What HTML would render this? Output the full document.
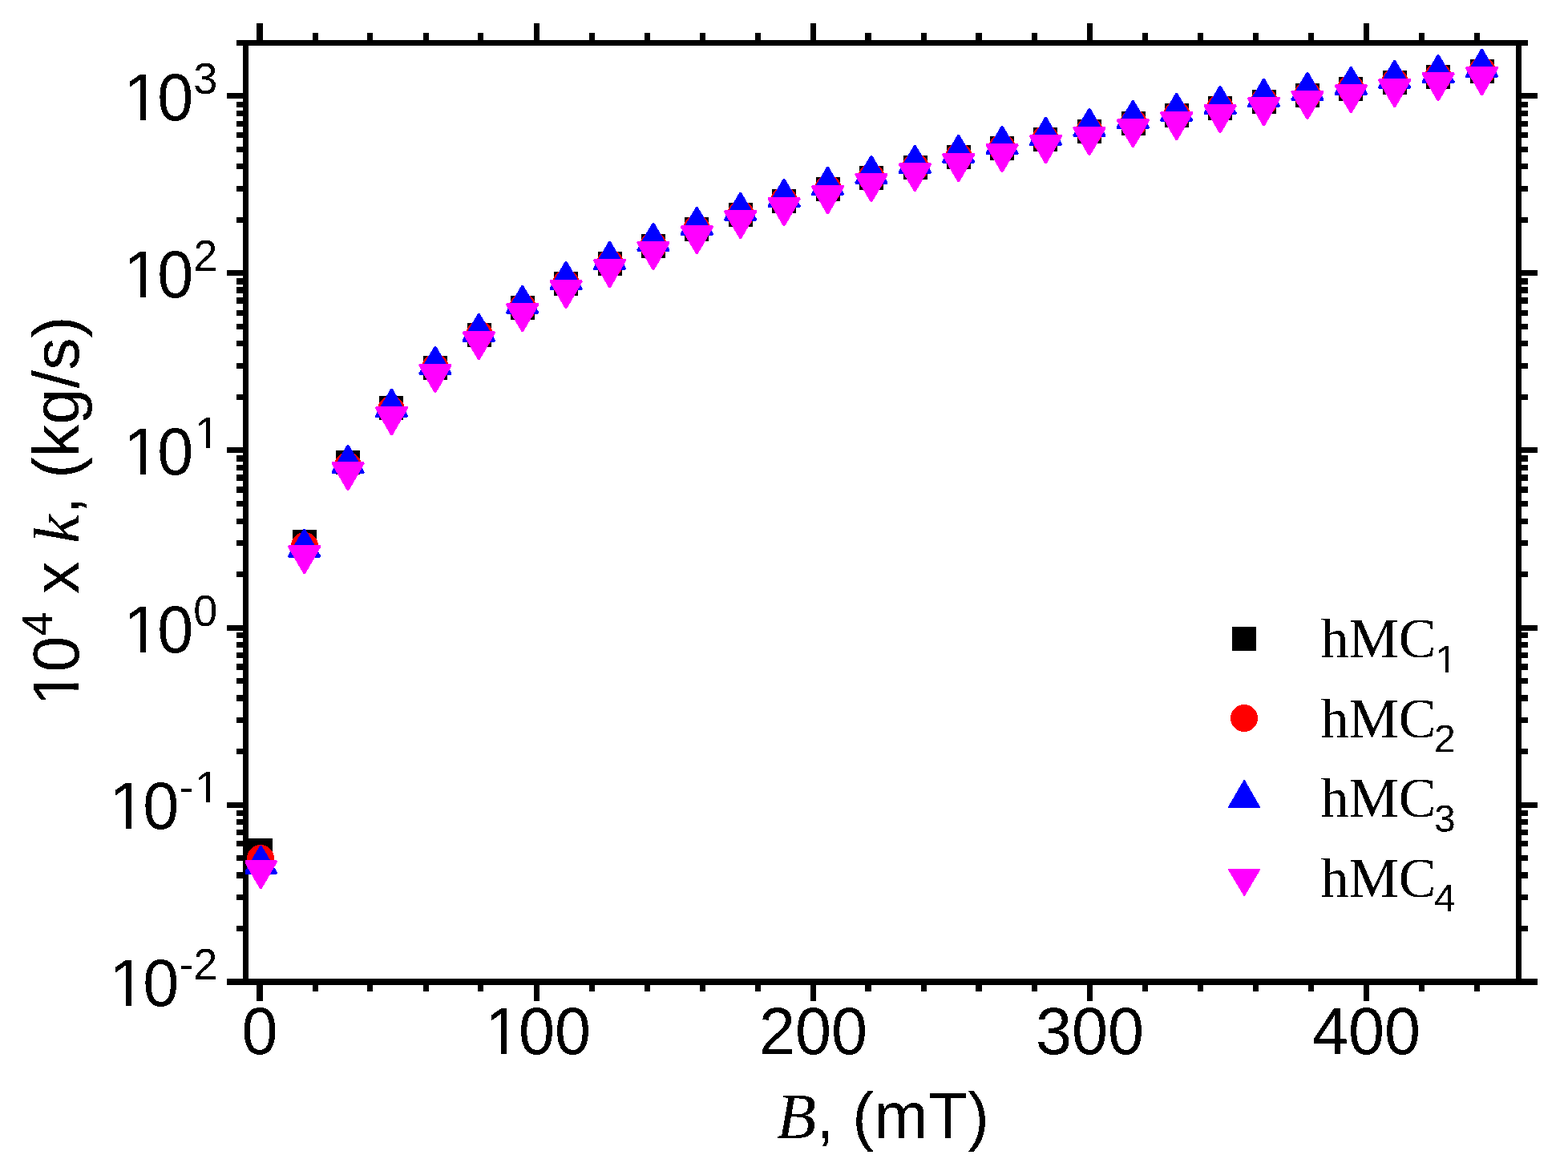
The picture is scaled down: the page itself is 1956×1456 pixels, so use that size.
<!DOCTYPE html>
<html lang="en"><head><meta charset="utf-8"><title>k vs B</title>
<style>
html,body{margin:0;padding:0;background:#fff;}
body{width:1956px;height:1456px;overflow:hidden;}
svg{display:block;}
.sans{font-family:"Liberation Sans",Arial,Helvetica,sans-serif;}
.serif{font-family:"Liberation Serif","Times New Roman",Times,serif;}
text{fill:#000;}
</style></head><body>
<svg width="1956" height="1456" viewBox="0 0 1956 1456" role="img" aria-label="10^4 x k (kg/s) versus B (mT) for hMC1 to hMC4">
<rect x="0" y="0" width="1956" height="1456" fill="#fff"/>
<g fill="#000" shape-rendering="crispEdges">
<rect x="295" y="50" width="1611" height="7"/>
<rect x="283" y="1221" width="1635" height="8"/>
<rect x="303" y="50" width="7" height="1179"/>
<rect x="1891" y="50" width="7" height="1179"/>
<rect x="320" y="29" width="8" height="21"/>
<rect x="320" y="1229" width="8" height="20"/>
<rect x="390" y="41" width="7" height="9"/>
<rect x="390" y="1229" width="7" height="8"/>
<rect x="458" y="41" width="7" height="9"/>
<rect x="458" y="1229" width="7" height="8"/>
<rect x="528" y="41" width="7" height="9"/>
<rect x="528" y="1229" width="7" height="8"/>
<rect x="596" y="41" width="7" height="9"/>
<rect x="596" y="1229" width="7" height="8"/>
<rect x="666" y="29" width="7" height="21"/>
<rect x="666" y="1229" width="7" height="20"/>
<rect x="735" y="41" width="7" height="9"/>
<rect x="735" y="1229" width="7" height="8"/>
<rect x="804" y="41" width="7" height="9"/>
<rect x="804" y="1229" width="7" height="8"/>
<rect x="873" y="41" width="7" height="9"/>
<rect x="873" y="1229" width="7" height="8"/>
<rect x="942" y="41" width="7" height="9"/>
<rect x="942" y="1229" width="7" height="8"/>
<rect x="1011" y="29" width="7" height="21"/>
<rect x="1011" y="1229" width="7" height="20"/>
<rect x="1079" y="41" width="8" height="9"/>
<rect x="1079" y="1229" width="8" height="8"/>
<rect x="1149" y="41" width="7" height="9"/>
<rect x="1149" y="1229" width="7" height="8"/>
<rect x="1217" y="41" width="8" height="9"/>
<rect x="1217" y="1229" width="8" height="8"/>
<rect x="1287" y="41" width="7" height="9"/>
<rect x="1287" y="1229" width="7" height="8"/>
<rect x="1356" y="29" width="7" height="21"/>
<rect x="1356" y="1229" width="7" height="20"/>
<rect x="1425" y="41" width="7" height="9"/>
<rect x="1425" y="1229" width="7" height="8"/>
<rect x="1494" y="41" width="7" height="9"/>
<rect x="1494" y="1229" width="7" height="8"/>
<rect x="1563" y="41" width="7" height="9"/>
<rect x="1563" y="1229" width="7" height="8"/>
<rect x="1632" y="41" width="7" height="9"/>
<rect x="1632" y="1229" width="7" height="8"/>
<rect x="1701" y="29" width="7" height="21"/>
<rect x="1701" y="1229" width="7" height="20"/>
<rect x="1770" y="41" width="7" height="9"/>
<rect x="1770" y="1229" width="7" height="8"/>
<rect x="1839" y="41" width="7" height="9"/>
<rect x="1839" y="1229" width="7" height="8"/>
<rect x="295" y="1155" width="8" height="7"/>
<rect x="1898" y="1155" width="8" height="7"/>
<rect x="295" y="1116" width="8" height="7"/>
<rect x="1898" y="1116" width="8" height="7"/>
<rect x="295" y="1088" width="8" height="8"/>
<rect x="1898" y="1088" width="8" height="8"/>
<rect x="295" y="1067" width="8" height="7"/>
<rect x="1898" y="1067" width="8" height="7"/>
<rect x="295" y="1049" width="8" height="7"/>
<rect x="1898" y="1049" width="8" height="7"/>
<rect x="295" y="1035" width="8" height="7"/>
<rect x="1898" y="1035" width="8" height="7"/>
<rect x="295" y="1022" width="8" height="7"/>
<rect x="1898" y="1022" width="8" height="7"/>
<rect x="295" y="1011" width="8" height="7"/>
<rect x="1898" y="1011" width="8" height="7"/>
<rect x="283" y="1001" width="20" height="7"/>
<rect x="1898" y="1001" width="20" height="7"/>
<rect x="295" y="934" width="8" height="7"/>
<rect x="1898" y="934" width="8" height="7"/>
<rect x="295" y="895" width="8" height="7"/>
<rect x="1898" y="895" width="8" height="7"/>
<rect x="295" y="867" width="8" height="8"/>
<rect x="1898" y="867" width="8" height="8"/>
<rect x="295" y="846" width="8" height="7"/>
<rect x="1898" y="846" width="8" height="7"/>
<rect x="295" y="828" width="8" height="8"/>
<rect x="1898" y="828" width="8" height="8"/>
<rect x="295" y="814" width="8" height="7"/>
<rect x="1898" y="814" width="8" height="7"/>
<rect x="295" y="801" width="8" height="7"/>
<rect x="1898" y="801" width="8" height="7"/>
<rect x="295" y="789" width="8" height="7"/>
<rect x="1898" y="789" width="8" height="7"/>
<rect x="283" y="780" width="20" height="7"/>
<rect x="1898" y="780" width="20" height="7"/>
<rect x="295" y="713" width="8" height="7"/>
<rect x="1898" y="713" width="8" height="7"/>
<rect x="295" y="674" width="8" height="7"/>
<rect x="1898" y="674" width="8" height="7"/>
<rect x="295" y="647" width="8" height="7"/>
<rect x="1898" y="647" width="8" height="7"/>
<rect x="295" y="625" width="8" height="7"/>
<rect x="1898" y="625" width="8" height="7"/>
<rect x="295" y="607" width="8" height="8"/>
<rect x="1898" y="607" width="8" height="8"/>
<rect x="295" y="592" width="8" height="8"/>
<rect x="1898" y="592" width="8" height="8"/>
<rect x="295" y="580" width="8" height="7"/>
<rect x="1898" y="580" width="8" height="7"/>
<rect x="295" y="568" width="8" height="8"/>
<rect x="1898" y="568" width="8" height="8"/>
<rect x="283" y="558" width="20" height="7"/>
<rect x="1898" y="558" width="20" height="7"/>
<rect x="295" y="492" width="8" height="7"/>
<rect x="1898" y="492" width="8" height="7"/>
<rect x="295" y="453" width="8" height="7"/>
<rect x="1898" y="453" width="8" height="7"/>
<rect x="295" y="425" width="8" height="7"/>
<rect x="1898" y="425" width="8" height="7"/>
<rect x="295" y="404" width="8" height="7"/>
<rect x="1898" y="404" width="8" height="7"/>
<rect x="295" y="387" width="8" height="7"/>
<rect x="1898" y="387" width="8" height="7"/>
<rect x="295" y="371" width="8" height="8"/>
<rect x="1898" y="371" width="8" height="8"/>
<rect x="295" y="358" width="8" height="8"/>
<rect x="1898" y="358" width="8" height="8"/>
<rect x="295" y="347" width="8" height="8"/>
<rect x="1898" y="347" width="8" height="8"/>
<rect x="283" y="337" width="20" height="7"/>
<rect x="1898" y="337" width="20" height="7"/>
<rect x="295" y="271" width="8" height="7"/>
<rect x="1898" y="271" width="8" height="7"/>
<rect x="295" y="232" width="8" height="7"/>
<rect x="1898" y="232" width="8" height="7"/>
<rect x="295" y="204" width="8" height="7"/>
<rect x="1898" y="204" width="8" height="7"/>
<rect x="295" y="183" width="8" height="7"/>
<rect x="1898" y="183" width="8" height="7"/>
<rect x="295" y="165" width="8" height="7"/>
<rect x="1898" y="165" width="8" height="7"/>
<rect x="295" y="151" width="8" height="7"/>
<rect x="1898" y="151" width="8" height="7"/>
<rect x="295" y="138" width="8" height="7"/>
<rect x="1898" y="138" width="8" height="7"/>
<rect x="295" y="127" width="8" height="7"/>
<rect x="1898" y="127" width="8" height="7"/>
<rect x="283" y="116" width="20" height="7"/>
<rect x="1898" y="116" width="20" height="7"/>
</g>
<defs><filter id="bin" x="-5%" y="-5%" width="110%" height="110%" color-interpolation-filters="sRGB"><feComponentTransfer><feFuncA type="discrete" tableValues="0 1"/></feComponentTransfer></filter></defs>
<defs><clipPath id="plotclip"><rect x="306" y="53" width="1589" height="1172"/></clipPath></defs>
<g clip-path="url(#plotclip)" shape-rendering="crispEdges">
<g fill="#000">
<rect x="310" y="1046" width="30" height="30" rx="1" ry="1"/>
<rect x="365" y="661" width="30" height="30" rx="1" ry="1"/>
<rect x="419" y="562" width="30" height="30" rx="1" ry="1"/>
<rect x="473" y="494" width="30" height="30" rx="1" ry="1"/>
<rect x="528" y="444" width="30" height="30" rx="1" ry="1"/>
<rect x="583" y="403" width="30" height="30" rx="1" ry="1"/>
<rect x="637" y="369" width="30" height="30" rx="1" ry="1"/>
<rect x="691" y="339" width="30" height="30" rx="1" ry="1"/>
<rect x="746" y="314" width="30" height="30" rx="1" ry="1"/>
<rect x="800" y="292" width="30" height="30" rx="1" ry="1"/>
<rect x="854" y="271" width="30" height="30" rx="1" ry="1"/>
<rect x="909" y="253" width="30" height="30" rx="1" ry="1"/>
<rect x="963" y="236" width="30" height="30" rx="1" ry="1"/>
<rect x="1018" y="221" width="30" height="30" rx="1" ry="1"/>
<rect x="1072" y="207" width="30" height="30" rx="1" ry="1"/>
<rect x="1127" y="194" width="30" height="30" rx="1" ry="1"/>
<rect x="1181" y="181" width="30" height="30" rx="1" ry="1"/>
<rect x="1235" y="170" width="30" height="30" rx="1" ry="1"/>
<rect x="1289" y="159" width="30" height="30" rx="1" ry="1"/>
<rect x="1344" y="149" width="30" height="30" rx="1" ry="1"/>
<rect x="1399" y="139" width="30" height="30" rx="1" ry="1"/>
<rect x="1453" y="129" width="30" height="30" rx="1" ry="1"/>
<rect x="1507" y="120" width="30" height="30" rx="1" ry="1"/>
<rect x="1562" y="112" width="30" height="30" rx="1" ry="1"/>
<rect x="1616" y="104" width="30" height="30" rx="1" ry="1"/>
<rect x="1670" y="96" width="30" height="30" rx="1" ry="1"/>
<rect x="1725" y="88" width="30" height="30" rx="1" ry="1"/>
<rect x="1779" y="81" width="30" height="30" rx="1" ry="1"/>
<rect x="1834" y="74" width="30" height="30" rx="1" ry="1"/>
</g>
<g fill="#f00">
<circle cx="325" cy="1071" r="17"/>
<circle cx="380" cy="681" r="17"/>
<circle cx="434" cy="581" r="17"/>
<circle cx="488" cy="511" r="17"/>
<circle cx="543" cy="458.5" r="17"/>
<circle cx="598" cy="417.5" r="17"/>
<circle cx="652" cy="383.5" r="17"/>
<circle cx="706" cy="353.5" r="17"/>
<circle cx="761" cy="328.5" r="17"/>
<circle cx="815" cy="306.5" r="17"/>
<circle cx="869" cy="285.5" r="17"/>
<circle cx="924" cy="267.5" r="17"/>
<circle cx="978" cy="250.5" r="17"/>
<circle cx="1033" cy="235.5" r="17"/>
<circle cx="1087" cy="221.5" r="17"/>
<circle cx="1142" cy="208.5" r="17"/>
<circle cx="1196" cy="195.5" r="17"/>
<circle cx="1250" cy="184.5" r="17"/>
<circle cx="1304" cy="173.5" r="17"/>
<circle cx="1359" cy="163.5" r="17"/>
<circle cx="1414" cy="153.5" r="17"/>
<circle cx="1468" cy="143.5" r="17"/>
<circle cx="1522" cy="134.5" r="17"/>
<circle cx="1577" cy="126.5" r="17"/>
<circle cx="1631" cy="118.5" r="17"/>
<circle cx="1685" cy="110.5" r="17"/>
<circle cx="1740" cy="102.5" r="17"/>
<circle cx="1794" cy="95.5" r="17"/>
<circle cx="1849" cy="88.5" r="17"/>
</g>
<g>
<polygon points="325.30,1057.00 343.80,1089.00 306.80,1089.00" fill="#00f" stroke="#00f" stroke-width="4.0" stroke-linejoin="round"/>
<polygon points="379.70,662.00 398.20,694.00 361.20,694.00" fill="#00f" stroke="#00f" stroke-width="4.0" stroke-linejoin="round"/>
<polygon points="434.10,557.00 452.60,589.00 415.60,589.00" fill="#00f" stroke="#00f" stroke-width="4.0" stroke-linejoin="round"/>
<polygon points="488.50,487.00 507.00,519.00 470.00,519.00" fill="#00f" stroke="#00f" stroke-width="4.0" stroke-linejoin="round"/>
<polygon points="542.90,434.00 561.40,466.00 524.40,466.00" fill="#00f" stroke="#00f" stroke-width="4.0" stroke-linejoin="round"/>
<polygon points="597.30,393.00 615.80,425.00 578.80,425.00" fill="#00f" stroke="#00f" stroke-width="4.0" stroke-linejoin="round"/>
<polygon points="651.70,358.00 670.20,390.00 633.20,390.00" fill="#00f" stroke="#00f" stroke-width="4.0" stroke-linejoin="round"/>
<polygon points="706.10,328.00 724.60,360.00 687.60,360.00" fill="#00f" stroke="#00f" stroke-width="4.0" stroke-linejoin="round"/>
<polygon points="760.50,303.00 779.00,335.00 742.00,335.00" fill="#00f" stroke="#00f" stroke-width="4.0" stroke-linejoin="round"/>
<polygon points="814.90,280.00 833.40,312.00 796.40,312.00" fill="#00f" stroke="#00f" stroke-width="4.0" stroke-linejoin="round"/>
<polygon points="869.30,260.00 887.80,292.00 850.80,292.00" fill="#00f" stroke="#00f" stroke-width="4.0" stroke-linejoin="round"/>
<polygon points="923.70,242.00 942.20,274.00 905.20,274.00" fill="#00f" stroke="#00f" stroke-width="4.0" stroke-linejoin="round"/>
<polygon points="978.10,225.00 996.60,257.00 959.60,257.00" fill="#00f" stroke="#00f" stroke-width="4.0" stroke-linejoin="round"/>
<polygon points="1032.50,210.00 1051.00,242.00 1014.00,242.00" fill="#00f" stroke="#00f" stroke-width="4.0" stroke-linejoin="round"/>
<polygon points="1086.90,196.00 1105.40,228.00 1068.40,228.00" fill="#00f" stroke="#00f" stroke-width="4.0" stroke-linejoin="round"/>
<polygon points="1141.30,183.00 1159.80,215.00 1122.80,215.00" fill="#00f" stroke="#00f" stroke-width="4.0" stroke-linejoin="round"/>
<polygon points="1195.70,170.00 1214.20,202.00 1177.20,202.00" fill="#00f" stroke="#00f" stroke-width="4.0" stroke-linejoin="round"/>
<polygon points="1250.10,159.00 1268.60,191.00 1231.60,191.00" fill="#00f" stroke="#00f" stroke-width="4.0" stroke-linejoin="round"/>
<polygon points="1304.50,148.00 1323.00,180.00 1286.00,180.00" fill="#00f" stroke="#00f" stroke-width="4.0" stroke-linejoin="round"/>
<polygon points="1358.90,137.00 1377.40,169.00 1340.40,169.00" fill="#00f" stroke="#00f" stroke-width="4.0" stroke-linejoin="round"/>
<polygon points="1413.30,127.00 1431.80,159.00 1394.80,159.00" fill="#00f" stroke="#00f" stroke-width="4.0" stroke-linejoin="round"/>
<polygon points="1467.70,118.00 1486.20,150.00 1449.20,150.00" fill="#00f" stroke="#00f" stroke-width="4.0" stroke-linejoin="round"/>
<polygon points="1522.10,109.00 1540.60,141.00 1503.60,141.00" fill="#00f" stroke="#00f" stroke-width="4.0" stroke-linejoin="round"/>
<polygon points="1576.50,100.00 1595.00,132.00 1558.00,132.00" fill="#00f" stroke="#00f" stroke-width="4.0" stroke-linejoin="round"/>
<polygon points="1630.90,92.00 1649.40,124.00 1612.40,124.00" fill="#00f" stroke="#00f" stroke-width="4.0" stroke-linejoin="round"/>
<polygon points="1685.30,85.00 1703.80,117.00 1666.80,117.00" fill="#00f" stroke="#00f" stroke-width="4.0" stroke-linejoin="round"/>
<polygon points="1739.70,77.00 1758.20,109.00 1721.20,109.00" fill="#00f" stroke="#00f" stroke-width="4.0" stroke-linejoin="round"/>
<polygon points="1794.10,70.00 1812.60,102.00 1775.60,102.00" fill="#00f" stroke="#00f" stroke-width="4.0" stroke-linejoin="round"/>
<polygon points="1848.50,63.00 1867.00,95.00 1830.00,95.00" fill="#00f" stroke="#00f" stroke-width="4.0" stroke-linejoin="round"/>
</g>
<g>
<polygon points="306.80,1075.00 343.80,1075.00 325.30,1107.00" fill="#f0f" stroke="#f0f" stroke-width="4.0" stroke-linejoin="round"/>
<polygon points="361.20,682.00 398.20,682.00 379.70,714.00" fill="#f0f" stroke="#f0f" stroke-width="4.0" stroke-linejoin="round"/>
<polygon points="415.60,578.00 452.60,578.00 434.10,610.00" fill="#f0f" stroke="#f0f" stroke-width="4.0" stroke-linejoin="round"/>
<polygon points="470.00,509.00 507.00,509.00 488.50,541.00" fill="#f0f" stroke="#f0f" stroke-width="4.0" stroke-linejoin="round"/>
<polygon points="524.40,456.00 561.40,456.00 542.90,488.00" fill="#f0f" stroke="#f0f" stroke-width="4.0" stroke-linejoin="round"/>
<polygon points="578.80,415.00 615.80,415.00 597.30,447.00" fill="#f0f" stroke="#f0f" stroke-width="4.0" stroke-linejoin="round"/>
<polygon points="633.20,380.00 670.20,380.00 651.70,412.00" fill="#f0f" stroke="#f0f" stroke-width="4.0" stroke-linejoin="round"/>
<polygon points="687.60,351.00 724.60,351.00 706.10,383.00" fill="#f0f" stroke="#f0f" stroke-width="4.0" stroke-linejoin="round"/>
<polygon points="742.00,325.00 779.00,325.00 760.50,357.00" fill="#f0f" stroke="#f0f" stroke-width="4.0" stroke-linejoin="round"/>
<polygon points="796.40,303.00 833.40,303.00 814.90,335.00" fill="#f0f" stroke="#f0f" stroke-width="4.0" stroke-linejoin="round"/>
<polygon points="850.80,283.00 887.80,283.00 869.30,315.00" fill="#f0f" stroke="#f0f" stroke-width="4.0" stroke-linejoin="round"/>
<polygon points="905.20,264.00 942.20,264.00 923.70,296.00" fill="#f0f" stroke="#f0f" stroke-width="4.0" stroke-linejoin="round"/>
<polygon points="959.60,248.00 996.60,248.00 978.10,280.00" fill="#f0f" stroke="#f0f" stroke-width="4.0" stroke-linejoin="round"/>
<polygon points="1014.00,233.00 1051.00,233.00 1032.50,265.00" fill="#f0f" stroke="#f0f" stroke-width="4.0" stroke-linejoin="round"/>
<polygon points="1068.40,218.00 1105.40,218.00 1086.90,250.00" fill="#f0f" stroke="#f0f" stroke-width="4.0" stroke-linejoin="round"/>
<polygon points="1122.80,205.00 1159.80,205.00 1141.30,237.00" fill="#f0f" stroke="#f0f" stroke-width="4.0" stroke-linejoin="round"/>
<polygon points="1177.20,193.00 1214.20,193.00 1195.70,225.00" fill="#f0f" stroke="#f0f" stroke-width="4.0" stroke-linejoin="round"/>
<polygon points="1231.60,181.00 1268.60,181.00 1250.10,213.00" fill="#f0f" stroke="#f0f" stroke-width="4.0" stroke-linejoin="round"/>
<polygon points="1286.00,170.00 1323.00,170.00 1304.50,202.00" fill="#f0f" stroke="#f0f" stroke-width="4.0" stroke-linejoin="round"/>
<polygon points="1340.40,160.00 1377.40,160.00 1358.90,192.00" fill="#f0f" stroke="#f0f" stroke-width="4.0" stroke-linejoin="round"/>
<polygon points="1394.80,150.00 1431.80,150.00 1413.30,182.00" fill="#f0f" stroke="#f0f" stroke-width="4.0" stroke-linejoin="round"/>
<polygon points="1449.20,141.00 1486.20,141.00 1467.70,173.00" fill="#f0f" stroke="#f0f" stroke-width="4.0" stroke-linejoin="round"/>
<polygon points="1503.60,132.00 1540.60,132.00 1522.10,164.00" fill="#f0f" stroke="#f0f" stroke-width="4.0" stroke-linejoin="round"/>
<polygon points="1558.00,123.00 1595.00,123.00 1576.50,155.00" fill="#f0f" stroke="#f0f" stroke-width="4.0" stroke-linejoin="round"/>
<polygon points="1612.40,115.00 1649.40,115.00 1630.90,147.00" fill="#f0f" stroke="#f0f" stroke-width="4.0" stroke-linejoin="round"/>
<polygon points="1666.80,107.00 1703.80,107.00 1685.30,139.00" fill="#f0f" stroke="#f0f" stroke-width="4.0" stroke-linejoin="round"/>
<polygon points="1721.20,100.00 1758.20,100.00 1739.70,132.00" fill="#f0f" stroke="#f0f" stroke-width="4.0" stroke-linejoin="round"/>
<polygon points="1775.60,92.00 1812.60,92.00 1794.10,124.00" fill="#f0f" stroke="#f0f" stroke-width="4.0" stroke-linejoin="round"/>
<polygon points="1830.00,85.00 1867.00,85.00 1848.50,117.00" fill="#f0f" stroke="#f0f" stroke-width="4.0" stroke-linejoin="round"/>
</g>
</g>
<g shape-rendering="crispEdges">
<rect x="1537" y="782" width="30" height="30" rx="1" ry="1" fill="#000"/>
<circle cx="1552" cy="896" r="17" fill="#f00"/>
<polygon points="1552.2,974 1571,1007 1533,1007" fill="#00f" stroke="#00f" stroke-width="2" stroke-linejoin="round"/>
<polygon points="1533,1085 1571,1085 1552.2,1117" fill="#f0f" stroke="#f0f" stroke-width="2" stroke-linejoin="round"/>
</g>
<g filter="url(#bin)">
<text x="1647.5" y="819.8" class="serif" font-size="70">hMC</text>
<text transform="translate(1790.8,839.2) scale(1,1.02)" class="sans" font-size="48">1</text>
<text x="1647.5" y="919.6" class="serif" font-size="70">hMC</text>
<text transform="translate(1789,938.4) scale(1,1.02)" class="sans" font-size="48">2</text>
<text x="1647.5" y="1019.2" class="serif" font-size="70">hMC</text>
<text transform="translate(1789,1038.2) scale(1,1.02)" class="sans" font-size="48">3</text>
<text x="1647.5" y="1118.8" class="serif" font-size="70">hMC</text>
<text transform="translate(1789,1137.4) scale(1,1.02)" class="sans" font-size="48">4</text>
<text transform="translate(301.48,1315.3) scale(1,1.035)" class="sans" font-size="81">0</text>
<text transform="translate(601.93,1315.3) scale(1,1.035)" class="sans" font-size="81" dx="3.0 -3.0 0">100</text>
<text transform="translate(946.93,1315.3) scale(1,1.035)" class="sans" font-size="81">200</text>
<text transform="translate(1291.93,1315.3) scale(1,1.035)" class="sans" font-size="81">300</text>
<text transform="translate(1636.93,1315.3) scale(1,1.035)" class="sans" font-size="81">400</text>
<text transform="translate(151.17,150) scale(1,1.035)" class="sans" font-size="81" dx="3.0 -3.0">10<tspan font-size="54" dy="-31.88">3</tspan></text>
<text transform="translate(151.17,371) scale(1,1.035)" class="sans" font-size="81" dx="3.0 -3.0">10<tspan font-size="54" dy="-31.88">2</tspan></text>
<text transform="translate(151.17,592) scale(1,1.035)" class="sans" font-size="81" dx="3.0 -3.0">10<tspan font-size="54" dy="-31.88" dx="2.0">1</tspan></text>
<text transform="translate(151.17,813.5) scale(1,1.035)" class="sans" font-size="81" dx="3.0 -3.0">10<tspan font-size="54" dy="-31.88">0</tspan></text>
<text transform="translate(133.19,1034) scale(1,1.035)" class="sans" font-size="81" dx="3.0 -3.0">10<tspan font-size="54" dy="-31.88" dx="0 2.0">-1</tspan></text>
<text transform="translate(133.19,1255) scale(1,1.035)" class="sans" font-size="81" dx="3.0 -3.0">10<tspan font-size="54" dy="-31.88">-2</tspan></text>
<text x="968.7" y="1420" font-size="81"><tspan class="serif" font-style="italic">B</tspan><tspan class="sans">, (mT)</tspan></text>
<text transform="translate(98,883.6) rotate(-90)" x="0" y="0" font-size="81" class="sans" dx="3.0 -3.0">10<tspan font-size="54" dy="-33">4</tspan><tspan dy="33"> x </tspan><tspan class="serif" font-style="italic">k</tspan>, (kg/s)</text>
</g>
<g fill="#fff" shape-rendering="crispEdges">
<rect x="1792.96" y="834.34" width="9.91" height="6.36"/>
<rect x="1807.11" y="834.34" width="9.54" height="6.36"/>
<rect x="609.60" y="1307.84" width="15.70" height="8.96"/>
<rect x="632.45" y="1307.84" width="15.07" height="8.96"/>
<rect x="158.84" y="142.54" width="15.70" height="8.96"/>
<rect x="181.70" y="142.54" width="15.07" height="8.96"/>
<rect x="158.84" y="363.54" width="15.70" height="8.96"/>
<rect x="181.70" y="363.54" width="15.07" height="8.96"/>
<rect x="158.84" y="584.54" width="15.70" height="8.96"/>
<rect x="181.70" y="584.54" width="15.07" height="8.96"/>
<rect x="245.88" y="553.62" width="10.97" height="6.88"/>
<rect x="261.62" y="553.62" width="10.54" height="6.88"/>
<rect x="158.84" y="806.04" width="15.70" height="8.96"/>
<rect x="181.70" y="806.04" width="15.07" height="8.96"/>
<rect x="140.86" y="1026.54" width="15.70" height="8.96"/>
<rect x="163.72" y="1026.54" width="15.07" height="8.96"/>
<rect x="245.88" y="995.62" width="10.97" height="6.88"/>
<rect x="261.62" y="995.62" width="10.54" height="6.88"/>
<rect x="140.86" y="1247.54" width="15.70" height="8.96"/>
<rect x="163.72" y="1247.54" width="15.07" height="8.96"/>
<g transform="translate(98,883.6) rotate(-90)">
<rect x="7.67" y="-7.25" width="15.70" height="8.75"/>
<rect x="30.53" y="-7.25" width="15.07" height="8.75"/>
</g>
</g>
</svg>
</body></html>
